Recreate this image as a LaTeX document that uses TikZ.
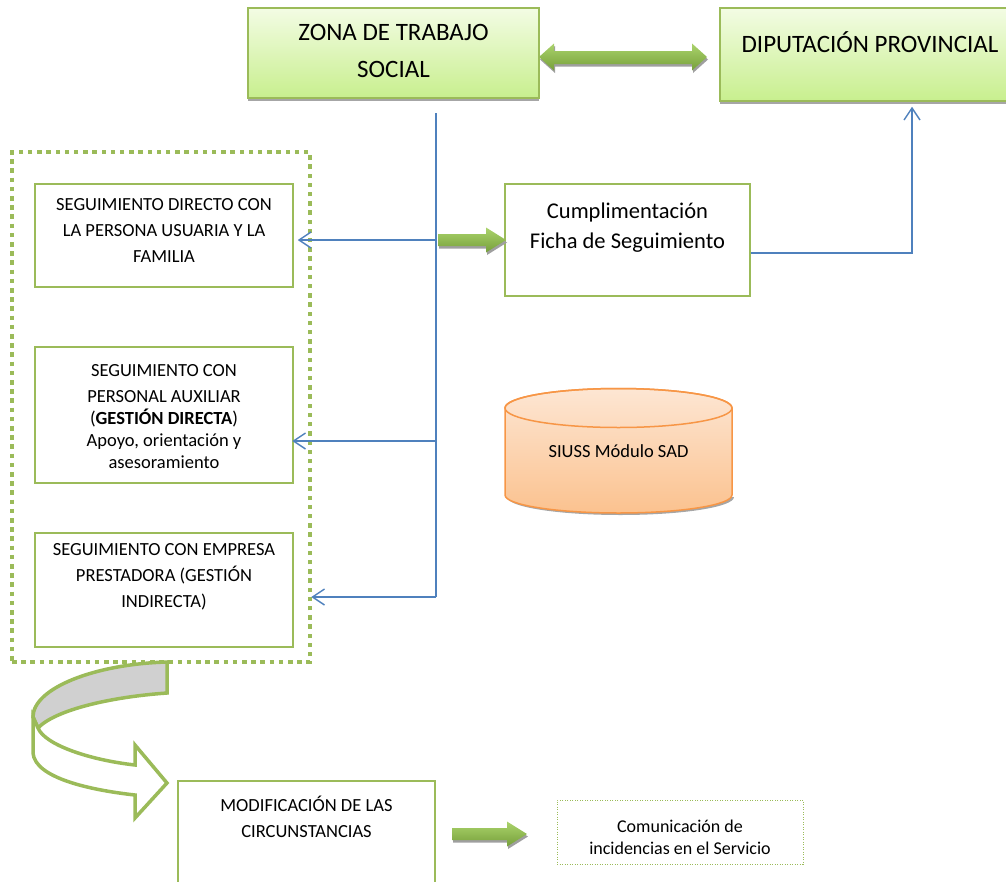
\documentclass[tikz,border=0pt]{standalone}
\usepackage{fontspec}
\setmainfont{Carlito}
\usetikzlibrary{arrows.meta,shadows}
\definecolor{grn}{HTML}{9BBB59}
\definecolor{blu}{HTML}{4F81BD}
\definecolor{org}{HTML}{F79646}
\definecolor{zTop}{HTML}{F3FCE4}
\definecolor{zBot}{HTML}{C8EF8E}
\definecolor{aTop}{HTML}{ABD36C}
\definecolor{aBot}{HTML}{76A03A}
\definecolor{oTop}{HTML}{FDE6D3}
\definecolor{oBot}{HTML}{FBC28F}
\definecolor{cgray}{HTML}{D0D0D0}
\newcommand\rblock[3]{%
  \fill[gray!75] (#1+1,#3-6+2.5) -- (#2-20+1,#3-6+2.5) -- (#2-20+1,#3-12.5+2.5) -- (#2+1,#3+2.5) -- (#2-20+1,#3+12.5+2.5) -- (#2-20+1,#3+6+2.5) -- (#1+1,#3+6+2.5) -- cycle;
  \shade[top color=aTop, bottom color=aBot] (#1,#3-6) -- (#2-20,#3-6) -- (#2-20,#3-12.5) -- (#2,#3) -- (#2-20,#3+12.5) -- (#2-20,#3+6) -- (#1,#3+6) -- cycle;}
\tikzset{
  gbox/.style={draw=grn, line width=1.5pt, fill=white, inner sep=0pt},
  topbox/.style={draw=grn, line width=1.5pt, top color=zTop, bottom color=zBot, inner sep=0pt,
    drop shadow={shadow xshift=0pt, shadow yshift=-3pt, fill=gray, opacity=.7}},
  txt/.style={align=center, inner sep=0pt},
  big/.style={font=\fontsize{25}{37}\selectfont},
  mid/.style={font=\fontsize{22.5}{30}\selectfont},
  sml/.style={font=\fontsize{18.5}{26}\selectfont},
  conn/.style={draw=blu, line width=1.4pt},
  tip/.style={-{Straight Barb[length=12pt,width=16pt]}},
}
\begin{document}
\begin{tikzpicture}[x=1pt,y=-1pt]
\useasboundingbox (0,0) rectangle (1006,881);

% top boxes
\node[topbox, minimum width=291, minimum height=90] (zona) at (393.5,53) {};
\node[txt, big] (zonaT) at (393.5,51) {ZONA DE TRABAJO\\SOCIAL};
\node[topbox, minimum width=290, minimum height=93] (dip) at (865,54.5) {};
\node[txt, big] (dipT) at (870,42) {DIPUTACIÓN PROVINCIAL};

% double block arrow
\fill[gray!75] (540,59.5) -- (555,46) -- (555,53.5) -- (693,53.5) -- (693,46) -- (708,59.5) -- (693,73) -- (693,66.5) -- (555,66.5) -- (555,73) -- cycle;
\shade[top color=aTop, bottom color=aBot] (539,57) -- (554,43.5) -- (554,51) -- (692,51) -- (692,43.5) -- (707,57) -- (692,70.5) -- (692,64) -- (554,64) -- (554,70.5) -- cycle;

% group
\node[draw=grn, line width=4.5pt, dash pattern=on 4.5pt off 4.7pt, minimum width=298, minimum height=510, inner sep=0pt] (grp) at (161,407) {};

% left boxes
\node[gbox, minimum width=258, minimum height=103] (b1) at (164,235.5) {};
\node[txt, sml] (b1T) at (164,230) {SEGUIMIENTO DIRECTO CON\\LA PERSONA USUARIA Y LA\\FAMILIA};
\node[gbox, minimum width=258, minimum height=136] (b2) at (164,415) {};
\node[txt, font=\fontsize{18.5}{22}\selectfont] (b2T) at (164,417) {SEGUIMIENTO CON\\[4pt]PERSONAL AUXILIAR\\(\textbf{GESTIÓN DIRECTA})\\Apoyo, orientación y\\asesoramiento};
\node[gbox, minimum width=258, minimum height=114] (b3) at (164,590) {};
\node[txt, sml] (b3T) at (164,577) {SEGUIMIENTO CON EMPRESA\\PRESTADORA (GESTIÓN\\INDIRECTA)};

% Cumplimentacion
\node[gbox, minimum width=245, minimum height=112] (cum) at (627.5,240) {};
\node[txt, mid] (cumT) at (627.5,228) {Cumplimentación\\Ficha de Seguimiento};

% blue connectors
\coordinate (top) at (436,113);
\coordinate (j1) at (436,240);
\coordinate (j2) at (436,441);
\coordinate (j3) at (436,597);
\draw[conn] (top) -- (j3);
\draw[conn, tip, shorten >=4pt] (j1) -- (b1.east |- j1);
\draw[conn, tip, shorten >=-20pt] (j2) -- (grp.east |- j2);
\draw[conn, tip, shorten >=-1pt] (j3) -- (grp.east |- j3);
\draw[conn, tip, shorten >=5pt] ([yshift=-13pt]cum.east) -| ([xshift=47pt]dip.south);

% green block arrows
\rblock{438}{506}{240}

% cylinder
\fill[gray!70] (507,497) arc[start angle=180, end angle=0, x radius=113.5, y radius=18] -- cycle;
\shade[top color=oTop, bottom color=oBot, draw=org, line width=1.5pt]
  (505,408) -- (505,495) arc[start angle=180, end angle=0, x radius=113.5, y radius=18]
  -- (732,408) arc[start angle=0, end angle=-180, x radius=113.5, y radius=19.5] -- cycle;
\draw[org, line width=1.5pt] (618.5,408) ellipse[x radius=113.5, y radius=19.5];
\node[txt, font=\fontsize{18.5}{22}\selectfont] (siuss) at (618.5,451) {SIUSS Módulo SAD};

% curved arrow
\fill[cgray, draw=grn, line width=3.5pt, line join=miter]
  (167,662) .. controls (95,664) and (33,688) .. (33,717)
  -- (38,728) .. controls (55,710) and (110,697) .. (167,693) -- cycle;
\filldraw[fill=white, draw=grn, line width=3.5pt, line join=miter]
  (33,717) -- (33,753) .. controls (35,778) and (90,790) .. (135,795)
  -- (135,818) -- (167,783) -- (135,745) -- (135,765)
  .. controls (90,760) and (45,745) .. (38,728) -- cycle;

% bottom boxes
\node[gbox, minimum width=257, minimum height=110] (mod) at (306.5,836) {};
\node[txt, sml] (modT) at (306.5,817) {MODIFICACIÓN DE LAS\\CIRCUNSTANCIAS};
\rblock{452}{527}{834}
\node[draw=grn, line width=1pt, dash pattern=on 1pt off 1.5pt, minimum width=246, minimum height=64, inner sep=0pt] (com) at (680,832) {};
\node[txt, font=\fontsize{18}{22}\selectfont] (comT) at (680,837) {Comunicación de\\incidencias en el Servicio};
\end{tikzpicture}
\end{document}
